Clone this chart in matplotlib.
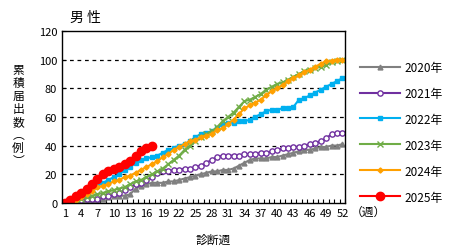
import matplotlib
matplotlib.use("Agg")
import matplotlib.pyplot as plt
from matplotlib.ticker import FixedLocator

plt.rcParams['font.family'] = ['Noto Sans CJK JP', 'DejaVu Sans']

weeks = list(range(1, 53))
tick_weeks = list(range(1, 53, 3))

y2020 = [0, 0, 0, 0, 1, 1, 2, 3, 4, 5, 5, 5, 6, 10, 12, 13, 14, 14, 14, 15,
         15, 16, 17, 18, 19, 20, 21, 22, 22, 23, 23, 24, 26, 28, 30, 31, 31, 31, 32, 32,
         33, 34, 35, 36, 37, 37, 38, 39, 39, 40, 40, 41]
y2021 = [0, 0, 1, 2, 3, 3, 3, 5, 5, 6, 7, 9, 11, 13, 14, 16, 18, 21, 22, 22,
         23, 23, 24, 24, 25, 26, 28, 30, 32, 33, 33, 33, 33, 34, 34, 34, 35, 35, 36, 37,
         38, 38, 39, 39, 40, 41, 42, 43, 45, 48, 49, 49]
y2022 = [0, 1, 3, 5, 7, 10, 12, 14, 16, 18, 20, 23, 25, 28, 30, 31, 32, 33, 35, 37,
         38, 40, 41, 43, 46, 48, 49, 50, 52, 55, 56, 56, 57, 57, 58, 60, 62, 64, 65, 65,
         66, 66, 67, 72, 73, 75, 77, 79, 81, 83, 85, 87]
y2023 = [0, 1, 2, 3, 4, 5, 6, 7, 8, 9, 10, 11, 13, 15, 16, 18, 20, 22, 24, 27,
         30, 33, 37, 40, 43, 46, 48, 50, 53, 57, 60, 63, 67, 71, 72, 74, 76, 79, 81, 83,
         84, 86, 88, 90, 92, 93, 94, 95, 96, 98, 99, 100]
y2024 = [0, 1, 2, 4, 6, 8, 11, 12, 13, 15, 16, 18, 19, 21, 23, 25, 27, 29, 32, 34,
         37, 39, 41, 43, 44, 46, 47, 48, 51, 52, 55, 58, 62, 66, 68, 70, 72, 75, 78, 80,
         82, 85, 87, 89, 91, 93, 95, 97, 99, 99, 100, 100]
y2025 = [0, 2, 5, 7, 10, 13, 17, 20, 22, 24, 25, 27, 29, 33, 36, 38, 40]

series = [
    ("2020年", y2020, "#808080", "^", 3.5, "#808080"),
    ("2021年", y2021, "#7030A0", "o", 3.8, "white"),
    ("2022年", y2022, "#00B0F0", "s", 3.3, "#00B0F0"),
    ("2023年", y2023, "#70AD47", "x", 4.2, "#70AD47"),
    ("2024年", y2024, "#FFA000", "D", 2.6, "#FFA000"),
    ("2025年", y2025, "#FF0000", "o", 6.0, "#FF0000"),
]

fig = plt.figure(figsize=(4.53, 2.53), dpi=100)
ax = fig.add_axes([0.137, 0.194, 0.625, 0.680])

for label, vals, color, marker, ms, face in series:
    ax.plot(weeks[:len(vals)], vals, color=color, lw=1.5, marker=marker,
            markersize=ms, markerfacecolor=face, markeredgecolor=color,
            markeredgewidth=1.0, label=label)

ax.set_xlim(0.5, 52.5)
ax.set_ylim(0, 120)
ax.set_yticks(range(0, 121, 20))
ax.set_xticks(tick_weeks)
ax.xaxis.set_minor_locator(FixedLocator([w + 0.5 for w in range(0, 53)]))
ax.tick_params(axis='x', which='major', length=0, labelsize=8, pad=4)
ax.tick_params(axis='x', which='minor', direction='in', length=3, width=0.8)
ax.tick_params(axis='y', direction='in', length=3, labelsize=8)
for y in range(20, 120, 20):
    ax.axhline(y, color='black', lw=0.9, ls=(0, (3, 3)), zorder=0)
for s in ax.spines.values():
    s.set_linewidth(1.0)

fig.text(0.155, 0.93, "男 性", fontsize=10, ha='left', va='center')
fig.text(0.04, 0.54, "累\n積\n届\n出\n数\n︵\n例\n︶", fontsize=8.5,
         ha='center', va='center', linespacing=1.0)
fig.text(0.775, 0.16, "（週）", fontsize=8.5, ha='left', va='center')
fig.text(0.47, 0.05, "診断週", fontsize=8.5, ha='center', va='center')

fig.legend(loc='upper left', bbox_to_anchor=(0.785, 0.775), frameon=False,
           fontsize=8.5, handlelength=3.4, labelspacing=1.1, handletextpad=0.3,
           borderaxespad=0)

fig.savefig("out.png", dpi=100)
